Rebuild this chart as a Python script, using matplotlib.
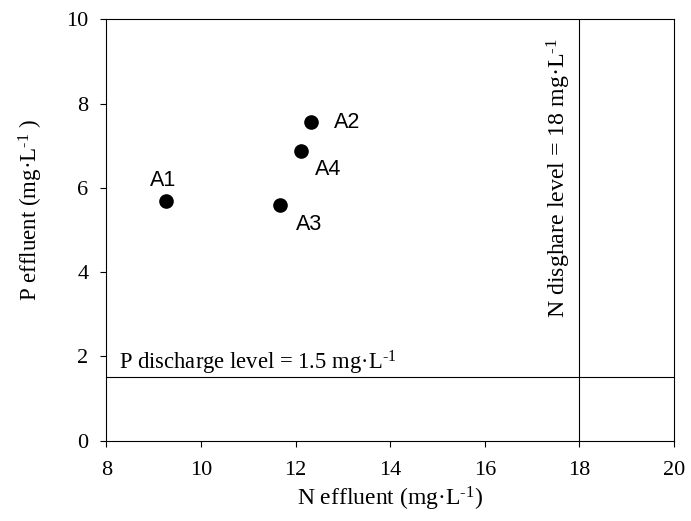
import matplotlib
matplotlib.use("Agg")
import matplotlib.pyplot as plt

# data
labels = ["A1", "A2", "A3", "A4"]
n_eff = [9.26, 12.33, 11.66, 12.11]
p_eff = [5.68, 7.55, 5.59, 6.88]
n_limit = 18
p_limit = 1.5

# label offsets (points) for each sample
offsets = {"A1": (-2, 15), "A2": (16.5, 0), "A3": (12, -14), "A4": (10.5, -13.5)}
aligns = {"A1": ("center", "center"), "A2": ("left", "center"),
          "A3": ("left", "center"), "A4": ("left", "center")}

plt.rcParams['font.family'] = ['Liberation Serif', 'DejaVu Serif']
plt.rcParams['mathtext.fontset'] = 'custom'
plt.rcParams['mathtext.rm'] = 'Liberation Serif'
plt.rcParams['mathtext.it'] = 'Liberation Serif:italic'

sup = r"$^{\text{-}1}$"

fig = plt.figure(figsize=(6.91, 5.21), dpi=100)
ax = fig.add_axes([0.1541, 0.1545, 0.8213, 0.8085])

ax.plot(n_eff, p_eff, 'o', color='black', markersize=9.5)
for lab, x, y in zip(labels, n_eff, p_eff):
    ha, va = aligns[lab]
    ax.annotate(lab, (x, y), xytext=offsets[lab], textcoords='offset points',
                ha=ha, va=va, fontsize=15.5, family='Liberation Sans')

ax.axhline(p_limit, color='black', lw=0.8)
ax.axvline(n_limit, color='black', lw=0.8)
ax.text(8.27, 1.68, "P discharge level = 1.5 mg·L" + sup, fontsize=16.3,
        ha='left', va='baseline')
ax.text(17.86, 2.9, "N disghare level = 18 mg·L" + sup, fontsize=17.2,
        rotation=90, ha='right', va='bottom')

ax.set_xlim(8, 20)
ax.set_ylim(0, 10)
ax.set_xticks([8, 10, 12, 14, 16, 18, 20])
ax.set_yticks([0, 2, 4, 6, 8, 10])
ax.tick_params(direction='out', length=4, width=0.8, labelsize=16)
ax.tick_params(axis='x', pad=11)
ax.tick_params(axis='y', pad=9)
for s in ax.spines.values():
    s.set_linewidth(0.8)

ax.set_xlabel("N effluent (mg·L" + sup + ")", fontsize=17, labelpad=3)
ax.set_ylabel("P effluent (mg·L" + sup + " )", fontsize=16.5)
ax.yaxis.set_label_coords(-0.108, 0.547)

fig.savefig("out.png", dpi=100)
